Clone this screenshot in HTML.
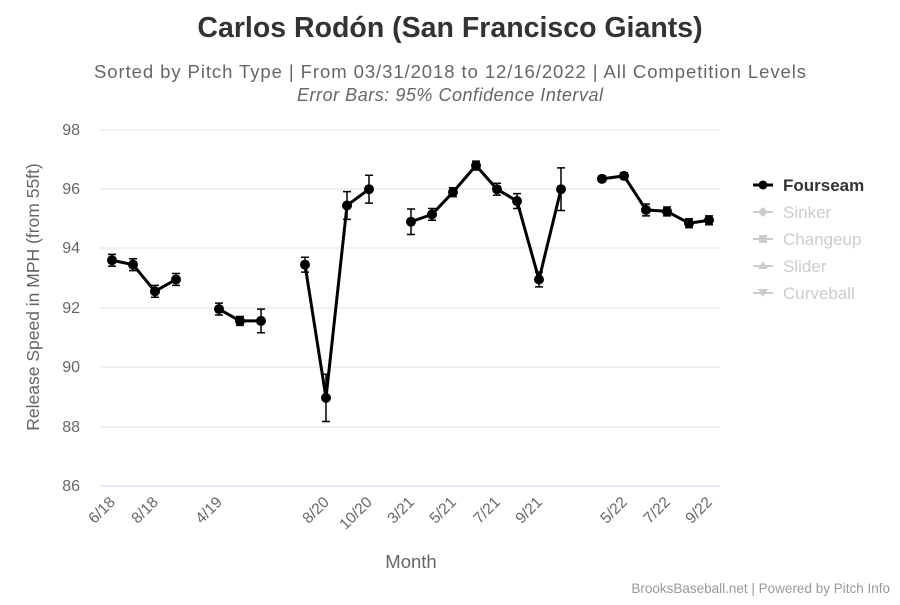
<!DOCTYPE html>
<html><head><meta charset="utf-8"><style>
body{margin:0;background:#fff}
svg text{font-family:"Liberation Sans",sans-serif}
</style></head><body>
<svg width="900" height="600" xmlns="http://www.w3.org/2000/svg">
<rect width="900" height="600" fill="#fff"/>
<text x="450" y="37" text-anchor="middle" font-size="28.5" font-weight="bold" fill="#333">Carlos Rodón (San Francisco Giants)</text>
<text x="450" y="78" text-anchor="middle" font-size="18.5" fill="#666" textLength="712">Sorted by Pitch Type | From 03/31/2018 to 12/16/2022 | All Competition Levels</text>
<text x="450" y="101" text-anchor="middle" font-size="18" font-style="italic" fill="#666" textLength="306">Error Bars: 95% Confidence Interval</text>
<g stroke="#e0e0e0" stroke-width="1">
<line x1="100" x2="720" y1="130" y2="130"/><line x1="100" x2="720" y1="189" y2="189"/>
<line x1="100" x2="720" y1="248" y2="248"/><line x1="100" x2="720" y1="308" y2="308"/>
<line x1="100" x2="720" y1="367" y2="367"/><line x1="100" x2="720" y1="427" y2="427"/>
</g>
<line x1="100" x2="720" y1="486" y2="486" stroke="#ccd6eb"/>
<g font-size="16" fill="#666" text-anchor="end">
<text x="80" y="135">98</text><text x="80" y="194">96</text><text x="80" y="253">94</text>
<text x="80" y="313">92</text><text x="80" y="372">90</text><text x="80" y="432">88</text><text x="80" y="491">86</text>
</g>
<text transform="translate(39,297) rotate(-90)" text-anchor="middle" font-size="17.5" fill="#666">Release Speed in MPH (from 55ft)</text>
<text x="411" y="568" text-anchor="middle" font-size="18.5" fill="#666">Month</text>
<g font-size="15.5" fill="#666" text-anchor="end">
<text transform="translate(116,503) rotate(-45)">6/18</text>
<text transform="translate(159,503) rotate(-45)">8/18</text>
<text transform="translate(223,503) rotate(-45)">4/19</text>
<text transform="translate(330,503) rotate(-45)">8/20</text>
<text transform="translate(373,503) rotate(-45)">10/20</text>
<text transform="translate(415,503) rotate(-45)">3/21</text>
<text transform="translate(457,503) rotate(-45)">5/21</text>
<text transform="translate(501,503) rotate(-45)">7/21</text>
<text transform="translate(543,503) rotate(-45)">9/21</text>
<text transform="translate(628,503) rotate(-45)">5/22</text>
<text transform="translate(671,503) rotate(-45)">7/22</text>
<text transform="translate(713,503) rotate(-45)">9/22</text>
</g>
<g id="err" stroke="#000" stroke-width="1.5" fill="none"></g>
<g id="ser" stroke="#000" stroke-width="3" fill="none" stroke-linejoin="round"></g>
<g id="pts" fill="#000"></g>
<g font-size="17">
<line x1="753" x2="773" y1="185" y2="185" stroke="#000" stroke-width="3"/><circle cx="763" cy="185" r="4.5"/>
<text x="783" y="191" font-weight="bold" fill="#333">Fourseam</text>
<g fill="#ccc" stroke="#ccc">
<line x1="753" x2="773" y1="212" y2="212" stroke-width="2"/><path d="M763 207l5 5-5 5-5-5z" stroke="none"/>
<line x1="753" x2="773" y1="239" y2="239" stroke-width="2"/><rect x="759" y="235" width="8" height="8" stroke="none"/>
<line x1="753" x2="773" y1="266" y2="266" stroke-width="2"/><path d="M763 261l5 8h-10z" stroke="none"/>
<line x1="753" x2="773" y1="293" y2="293" stroke-width="2"/><path d="M763 297l5-8h-10z" stroke="none"/>
</g>
<g fill="#ccc"><text x="783" y="218">Sinker</text><text x="783" y="245">Changeup</text><text x="783" y="272">Slider</text><text x="783" y="299">Curveball</text></g>
</g>
<text x="890" y="593" text-anchor="end" font-size="13.5" fill="#999">BrooksBaseball.net | Powered by Pitch Info</text>
<script>
var Y=v=>130+(98-v)*29.6;
var groups=[
[[112,93.6,.2],[133,93.45,.2],[155,92.55,.2],[176,92.95,.2]],
[[219,91.95,.2],[240,91.55,.15],[261,91.55,.4]],
[[305,93.45,.25],[326,88.95,.8],[347,95.45,.47],[369,96.0,.47]],
[[411,94.9,.43],[432,95.15,.2],[453,95.9,.15],[476,96.8,.15],[497,96.0,.2],[517,95.6,.25],[539,92.95,.25],[561,96.0,.72]],
[[602,96.35,.1],[624,96.45,.1],[646,95.3,.2],[667,95.25,.15],[689,94.85,.15],[709,94.95,.15]]];
var ns="http://www.w3.org/2000/svg",e=document.getElementById('err'),s=document.getElementById('ser'),p=document.getElementById('pts');
groups.forEach(g=>{var d="";g.forEach((q,i)=>{var x=q[0],y=Y(q[1]),a=Y(q[1]+q[2]),b=Y(q[1]-q[2]);
d+=(i?"L":"M")+x+" "+y;
var pe=document.createElementNS(ns,'path');pe.setAttribute('d',`M${x} ${a}V${b}M${x-4} ${a}H${x+4}M${x-4} ${b}H${x+4}`);e.appendChild(pe);
var c=document.createElementNS(ns,'circle');c.setAttribute('cx',x);c.setAttribute('cy',y);c.setAttribute('r',5);p.appendChild(c);});
var pl=document.createElementNS(ns,'path');pl.setAttribute('d',d);s.appendChild(pl);});
</script>
</svg>
</body></html>
